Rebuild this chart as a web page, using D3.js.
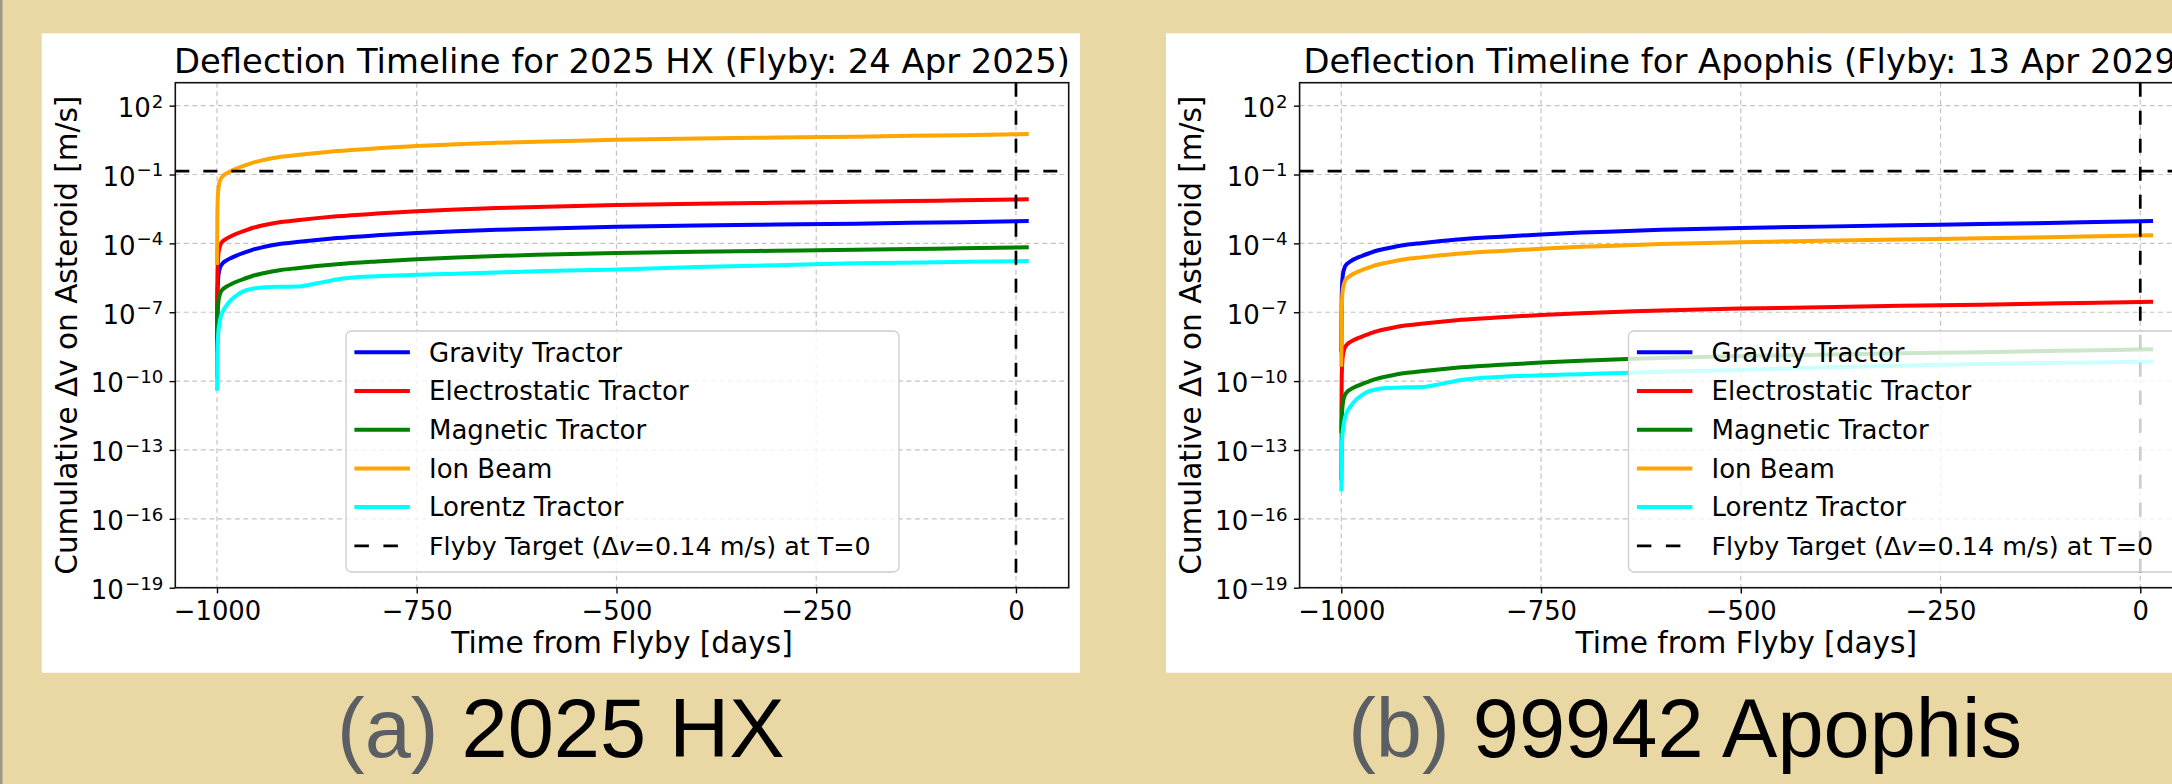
<!DOCTYPE html>
<html>
<head>
<meta charset="utf-8">
<script src="https://cdn.jsdelivr.net/npm/d3@7"></script>
<style>
  body { margin: 0; background: #EAD8A4; }
  svg { display: block; }
</style>
</head>
<body>
<svg id="chart" width="2172" height="784"></svg>
<script>
// ---- data (values are log10 of cumulative Δv in m/s) ----
const days = [-1000, -999.5, -999, -998, -996, -993, -988, -982, -975, -965, -955, -942, -920, -900,
              -875, -850, -800, -750, -700, -650, -600, -500, -400, -300, -200, -100, 0, 16];

// 2025 HX
const gravityA       = [-8.73, -6.39, -5.79, -5.34, -5.04, -4.87, -4.74, -4.63, -4.52, -4.39, -4.27, -4.16, -4.02, -3.94,
                        -3.85, -3.77, -3.65, -3.55, -3.47, -3.41, -3.36, -3.28, -3.22, -3.18, -3.14, -3.09, -3.04, -3.03];
const electrostaticA = [-7.78, -5.44, -4.84, -4.39, -4.09, -3.92, -3.79, -3.68, -3.57, -3.44, -3.32, -3.21, -3.07, -2.99,
                        -2.90, -2.82, -2.70, -2.60, -2.52, -2.46, -2.41, -2.33, -2.27, -2.23, -2.19, -2.14, -2.09, -2.08];
const magneticA      = [-9.87, -7.53, -6.93, -6.48, -6.18, -6.01, -5.88, -5.77, -5.66, -5.53, -5.41, -5.30, -5.16, -5.08,
                        -4.99, -4.91, -4.79, -4.69, -4.61, -4.55, -4.50, -4.42, -4.36, -4.32, -4.28, -4.23, -4.18, -4.17];
const ionBeamA       = [-4.94, -2.60, -2.00, -1.55, -1.25, -1.08, -0.95, -0.84, -0.73, -0.60, -0.48, -0.37, -0.23, -0.15,
                        -0.06, 0.02, 0.14, 0.24, 0.32, 0.38, 0.43, 0.51, 0.57, 0.61, 0.65, 0.70, 0.75, 0.76];
const lorentzA       = [-10.42, -8.60, -8.20, -7.75, -7.30, -6.98, -6.70, -6.45, -6.25, -6.06, -5.97, -5.92, -5.89, -5.88,
                        -5.74, -5.57, -5.43, -5.37, -5.32, -5.27, -5.21, -5.14, -5.03, -4.95, -4.87, -4.82, -4.78, -4.77];

// 99942 Apophis
const gravityB       = [-8.75, -6.42, -5.80, -5.36, -5.07, -4.90, -4.77, -4.66, -4.56, -4.43, -4.31, -4.21, -4.07, -3.99,
                        -3.90, -3.82, -3.71, -3.61, -3.53, -3.47, -3.41, -3.33, -3.27, -3.21, -3.16, -3.10, -3.04, -3.03];
const electrostaticB = [-12.26, -9.93, -9.31, -8.87, -8.58, -8.41, -8.28, -8.17, -8.07, -7.94, -7.82, -7.72, -7.58, -7.50,
                        -7.41, -7.33, -7.22, -7.12, -7.04, -6.98, -6.92, -6.84, -6.78, -6.72, -6.67, -6.61, -6.55, -6.54];
const magneticB      = [-14.33, -12.00, -11.38, -10.94, -10.65, -10.48, -10.35, -10.24, -10.14, -10.01, -9.89, -9.79, -9.65, -9.57,
                        -9.48, -9.40, -9.29, -9.19, -9.11, -9.05, -8.99, -8.91, -8.85, -8.79, -8.74, -8.68, -8.62, -8.61];
const ionBeamB       = [-9.37, -7.04, -6.42, -5.98, -5.69, -5.52, -5.39, -5.28, -5.18, -5.05, -4.93, -4.83, -4.69, -4.61,
                        -4.52, -4.44, -4.33, -4.23, -4.15, -4.09, -4.03, -3.95, -3.89, -3.83, -3.78, -3.72, -3.66, -3.65];
const lorentzB       = [-14.80, -12.98, -12.58, -12.13, -11.68, -11.36, -11.08, -10.83, -10.63, -10.44, -10.35, -10.30, -10.27, -10.26,
                        -10.12, -9.95, -9.81, -9.75, -9.70, -9.65, -9.59, -9.52, -9.41, -9.33, -9.25, -9.20, -9.16, -9.15];

const seriesNames  = ["Gravity Tractor", "Electrostatic Tractor", "Magnetic Tractor", "Ion Beam", "Lorentz Tractor"];
const seriesColors = ["#0000ff", "#ff0000", "#008000", "#ffa500", "#00ffff"];
const targetDv = 0.14;
const xTicks = [-1000, -750, -500, -250, 0];
const yTickExps = [2, -1, -4, -7, -10, -13, -16, -19];

const panels = [
  { offset: 0, legendX: 346, title: "Deflection Timeline for 2025 HX (Flyby: 24 Apr 2025)",
    tag: "(a)", name: " 2025 HX",
    series: [gravityA, electrostaticA, magneticA, ionBeamA, lorentzA] },
  { offset: 1124.3, legendX: 504.2, title: "Deflection Timeline for Apophis (Flyby: 13 Apr 2029)",
    tag: "(b)", name: " 99942 Apophis",
    series: [gravityB, electrostaticB, magneticB, ionBeamB, lorentzB] }
];

// ---- drawing ----
const svg = d3.select("#chart");
const FONT = "'DejaVu Sans', sans-serif";

svg.append("rect").attr("width", 2172).attr("height", 784).attr("fill", "#EAD8A4");
svg.append("rect").attr("x", 0).attr("y", 0).attr("width", 2.5).attr("height", 784).attr("fill", "#9d9988");

const ax = { left: 175.3, right: 1068.7, top: 82.7, bottom: 587.7 };

panels.forEach((p, pi) => {
  const g = svg.append("g").attr("transform", `translate(${p.offset},0)`);

  // white figure background
  g.append("rect").attr("x", 41.7).attr("y", 33.3).attr("width", 1038.3).attr("height", 639.4).attr("fill", "#fff");

  const x = d3.scaleLinear().domain([-1052.2, 66.0]).range([ax.left, ax.right]);
  const y = d3.scaleLog().domain([1e-19, 1e3]).range([ax.bottom, ax.top]);

  const clipId = "clip" + pi;
  g.append("clipPath").attr("id", clipId)
    .append("rect").attr("x", ax.left).attr("y", ax.top)
    .attr("width", ax.right - ax.left).attr("height", ax.bottom - ax.top);

  // grid
  const grid = g.append("g").attr("stroke", "#c4c4c4").attr("stroke-width", 1.2).attr("stroke-dasharray", "5,3.5");
  xTicks.forEach(t => grid.append("line").attr("x1", x(t)).attr("x2", x(t)).attr("y1", ax.top).attr("y2", ax.bottom));
  yTickExps.forEach(e => grid.append("line").attr("x1", ax.left).attr("x2", ax.right)
    .attr("y1", y(Math.pow(10, e))).attr("y2", y(Math.pow(10, e))));

  // series
  const line = d3.line()
    .x((d, i) => x(days[i]))
    .y(d => y(Math.pow(10, d)))
    .curve(d3.curveMonotoneX);

  const plot = g.append("g").attr("clip-path", `url(#${clipId})`);
  p.series.forEach((s, i) => {
    plot.append("path").attr("d", line(s)).attr("fill", "none")
      .attr("stroke", seriesColors[i]).attr("stroke-width", 4).attr("stroke-linejoin", "round");
  });

  // target lines
  plot.append("line").attr("x1", ax.left).attr("x2", ax.right).attr("y1", y(targetDv)).attr("y2", y(targetDv))
    .attr("stroke", "#000").attr("stroke-width", 2.7).attr("stroke-dasharray", "14,14");
  plot.append("line").attr("x1", x(0)).attr("x2", x(0)).attr("y1", ax.top).attr("y2", ax.bottom)
    .attr("stroke", "#000").attr("stroke-width", 2.7).attr("stroke-dasharray", "14,14");

  // x axis
  const xAxis = g.append("g").attr("transform", `translate(0,${ax.bottom})`)
    .call(d3.axisBottom(x).tickValues(xTicks).tickSize(5.7).tickPadding(8)
      .tickFormat(d => d < 0 ? "\u2212" + Math.abs(d) : String(d)));
  xAxis.select(".domain").remove();
  xAxis.selectAll("line").attr("stroke", "#000").attr("stroke-width", 1.4);
  xAxis.selectAll("text").attr("font-family", FONT).attr("font-size", 25.8).attr("fill", "#000")
    .attr("dy", null).attr("y", 32.5);

  // y axis
  const yAxis = g.append("g").attr("transform", `translate(${ax.left},0)`)
    .call(d3.axisLeft(y).tickValues(yTickExps.map(e => Math.pow(10, e))).tickSize(5.7).tickFormat(""));
  yAxis.select(".domain").remove();
  yAxis.selectAll("line").attr("stroke", "#000").attr("stroke-width", 1.4);
  yAxis.selectAll(".tick").each(function(d) {
    const e = Math.round(Math.log10(d));
    const t = d3.select(this).append("text")
      .attr("x", -12).attr("y", 10.8).attr("text-anchor", "end")
      .attr("font-family", FONT).attr("font-size", 26).attr("fill", "#000");
    t.append("tspan").text("10");
    t.append("tspan").attr("font-size", 18.2).attr("dy", -9.4).attr("dx", 1)
      .text(e < 0 ? "\u2212" + Math.abs(e) : String(e));
  });

  // spines
  g.append("rect").attr("x", ax.left).attr("y", ax.top)
    .attr("width", ax.right - ax.left).attr("height", ax.bottom - ax.top)
    .attr("fill", "none").attr("stroke", "#111").attr("stroke-width", 1.6);

  // labels
  g.append("text").attr("x", (ax.left + ax.right) / 2).attr("y", 72.5).attr("text-anchor", "middle")
    .attr("font-family", FONT).attr("font-size", 33.8).attr("fill", "#000").text(p.title);
  g.append("text").attr("x", (ax.left + ax.right) / 2).attr("y", 652.5).attr("text-anchor", "middle")
    .attr("font-family", FONT).attr("font-size", 29.6).attr("fill", "#000").text("Time from Flyby [days]");
  g.append("text").attr("transform", `translate(76.7,${(ax.top + ax.bottom) / 2}) rotate(-90)`)
    .attr("text-anchor", "middle").attr("font-family", FONT).attr("font-size", 29.5).attr("fill", "#000")
    .text("Cumulative \u0394v on Asteroid [m/s]");

  // legend
  const lg = g.append("g").attr("transform", `translate(${p.legendX},331)`);
  lg.append("rect").attr("width", 553).attr("height", 241).attr("rx", 5.5)
    .attr("fill", "#fff").attr("fill-opacity", 0.8).attr("stroke", "#cccccc").attr("stroke-width", 1.3);
  const rowY = i => 21.3 + i * 38.7;
  seriesNames.forEach((n, i) => {
    lg.append("line").attr("x1", 8.4).attr("x2", 63.9).attr("y1", rowY(i)).attr("y2", rowY(i))
      .attr("stroke", seriesColors[i]).attr("stroke-width", 4);
    lg.append("text").attr("x", 83).attr("y", rowY(i) + 9.3).attr("font-family", FONT).attr("font-size", 26)
      .attr("fill", "#000").text(n);
  });
  lg.append("line").attr("x1", 8.4).attr("x2", 63.9).attr("y1", rowY(5)).attr("y2", rowY(5))
    .attr("stroke", "#000").attr("stroke-width", 2.7).attr("stroke-dasharray", "14.5,14.5");
  const ft = lg.append("text").attr("x", 83).attr("y", rowY(5) + 9.3).attr("font-family", FONT)
    .attr("font-size", 25.4).attr("fill", "#000");
  ft.append("tspan").text("Flyby Target (\u0394");
  ft.append("tspan").attr("font-style", "italic").text("v");
  ft.append("tspan").text("=" + targetDv + " m/s) at T=0");

  // caption
  const cap = g.append("text").attr("x", 560.8).attr("y", 757).attr("text-anchor", "middle")
    .attr("font-family", "'Liberation Sans', Arial, sans-serif").attr("font-size", 83);
  cap.append("tspan").attr("fill", "#5b5f64").text(p.tag);
  cap.append("tspan").attr("fill", "#000").text(p.name);
});
</script>
</body>
</html>
